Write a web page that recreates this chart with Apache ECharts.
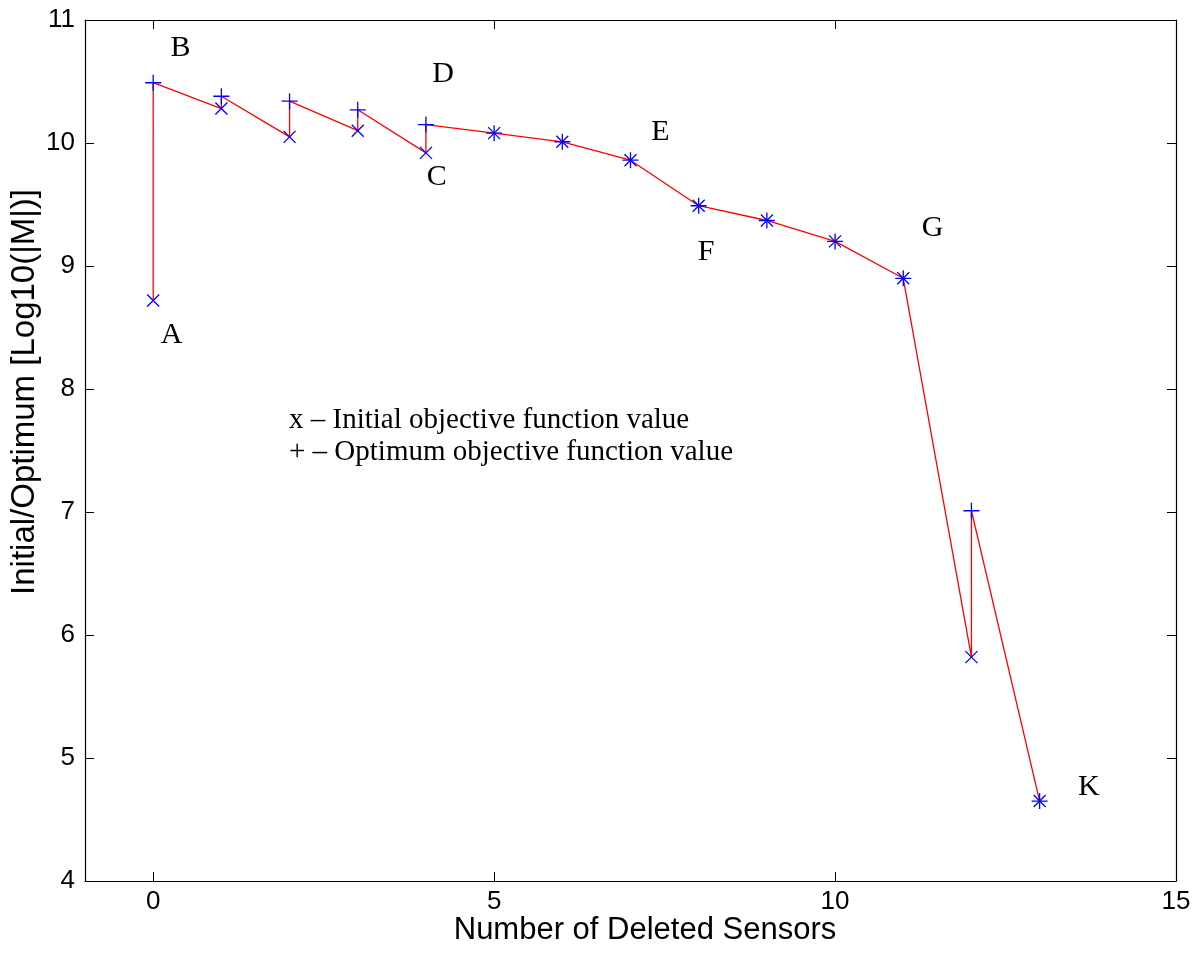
<!DOCTYPE html>
<html>
<head>
<meta charset="utf-8">
<script src="https://cdn.jsdelivr.net/npm/echarts@6/dist/echarts.min.js"></script>
<style>
  html, body { margin: 0; padding: 0; background: #fff; }
  #chart { width: 1204px; height: 957px; }
</style>
</head>
<body>
<div id="chart"></div>
<script>
// number of deleted sensors
const sensors = [0, 1, 2, 3, 4, 5, 6, 7, 8, 9, 10, 11, 12, 13];
// initial objective function value (x)
const initialVals = [8.72, 10.28, 10.05, 10.10, 9.92, 10.08, 10.01, 9.86, 9.49, 9.37, 9.20, 8.90, 5.82, 4.65];
// optimum objective function value (+)
const optimumVals = [10.49, 10.38, 10.34, 10.27, 10.15, 10.08, 10.01, 9.86, 9.49, 9.37, 9.20, 8.90, 7.01, 4.65];
// point labels [letter, x, y]
const letters = [
  ["A", 0.27, 8.44], ["B", 0.40, 10.77], ["C", 4.16, 9.72], ["D", 4.25, 10.56],
  ["E", 7.44, 10.09], ["F", 8.11, 9.11], ["G", 11.43, 9.31], ["K", 13.72, 4.76]
];
const xTicks = [0, 5, 10, 15];

// path: initial -> optimum, then on to the next initial
const path = [];
sensors.forEach((s, i) => {
  path.push([s, initialVals[i]]);
  if (optimumVals[i] !== initialVals[i]) path.push([s, optimumVals[i]]);
});

const chart = echarts.init(document.getElementById("chart"));
const labelFont = { fontFamily: "Liberation Sans", fontSize: 26, color: "#000" };
const markerStyle = { color: "transparent", borderColor: "#0000ff", borderWidth: 1.3, opacity: 1 };
const frameLine = { onZero: false, show: true, lineStyle: { color: "#000", width: 1.2 } };
const tickStyle = { inside: true, length: 9, lineStyle: { color: "#000", width: 1 } };

chart.setOption({
  animation: false,
  backgroundColor: "#fff",
  grid: { left: 85, right: 28, top: 20, bottom: 76, outerBoundsMode: "none", containLabel: false },
  xAxis: [
    {
      type: "value", min: -1, max: 15,
      axisLine: frameLine,
      axisTick: { ...tickStyle, customValues: xTicks },
      axisLabel: { ...labelFont, margin: 8, customValues: xTicks },
      splitLine: { show: false }
    },
    {
      type: "value", min: -1, max: 15, position: "top",
      axisLine: frameLine,
      axisTick: { ...tickStyle, customValues: xTicks },
      axisLabel: { show: false },
      splitLine: { show: false }
    }
  ],
  yAxis: [
    {
      type: "value", min: 4, max: 11, interval: 1,
      axisLine: frameLine,
      axisTick: tickStyle,
      axisLabel: { ...labelFont, margin: 10 },
      splitLine: { show: false }
    },
    {
      type: "value", min: 4, max: 11, interval: 1, position: "right",
      axisLine: frameLine,
      axisTick: tickStyle,
      axisLabel: { show: false },
      splitLine: { show: false }
    }
  ],
  series: [
    {
      type: "line",
      data: path,
      symbol: "none",
      lineStyle: { color: "#ff0000", width: 1.3 },
      z: 2
    },
    {
      type: "scatter",
      data: sensors.map((s, i) => [s, initialVals[i]]),
      symbol: "path://M0,0L10,10M10,0L0,10",
      symbolSize: 12,
      itemStyle: markerStyle,
      z: 3
    },
    {
      type: "scatter",
      data: sensors.map((s, i) => [s, optimumVals[i]]),
      symbol: "path://M5,0L5,10M0,5L10,5",
      symbolSize: 16,
      itemStyle: markerStyle,
      z: 3
    },
    {
      type: "scatter",
      data: letters.map(l => ({ value: [l[1], l[2]], name: l[0] })),
      symbol: "circle",
      symbolSize: 1,
      itemStyle: { color: "rgba(0,0,0,0)", opacity: 1 },
      label: {
        show: true, position: "inside", formatter: "{b}",
        fontFamily: "Liberation Serif", fontSize: 30, color: "#000"
      },
      z: 4
    }
  ],
  graphic: [
    {
      type: "text", left: 289, top: 406,
      style: { text: "x – Initial objective function value", font: "29px 'Liberation Serif'", fill: "#000" }
    },
    {
      type: "text", left: 289, top: 438,
      style: { text: "+ – Optimum objective function value", font: "29px 'Liberation Serif'", fill: "#000" }
    },
    {
      type: "text", x: 645, y: 930,
      style: {
        text: "Number of Deleted Sensors", font: "31px 'Liberation Sans'", fill: "#000",
        align: "center", verticalAlign: "middle"
      }
    },
    {
      type: "text", x: 25, y: 392, rotation: Math.PI / 2,
      style: {
        text: "Initial/Optimum [Log10(|M|)]", font: "33px 'Liberation Sans'", fill: "#000",
        align: "center", verticalAlign: "middle"
      }
    }
  ]
});
</script>
</body>
</html>
